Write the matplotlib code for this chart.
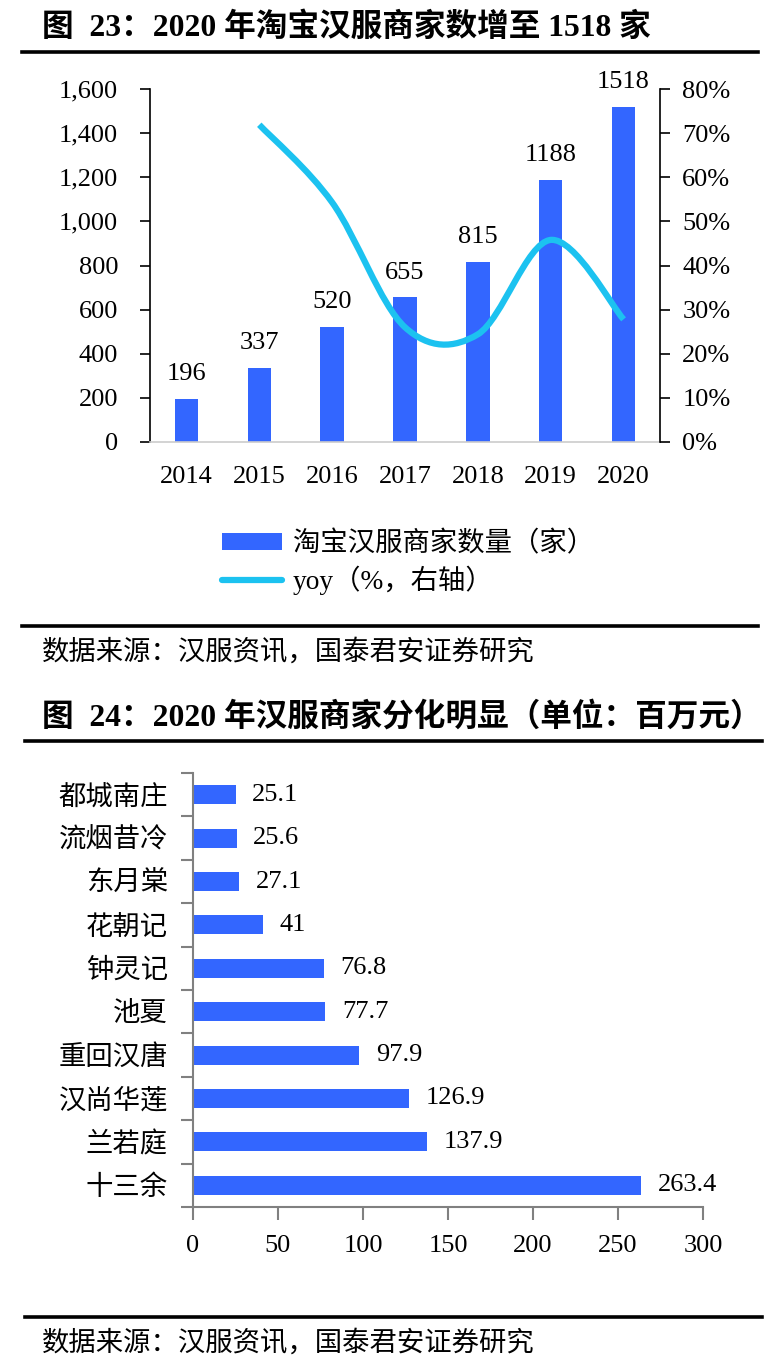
import matplotlib
matplotlib.use("Agg")
import matplotlib.pyplot as plt
from matplotlib.path import Path
from matplotlib.patches import PathPatch
from matplotlib.lines import Line2D
from matplotlib.ticker import FuncFormatter, FixedLocator
import numpy as np

# ---------------- data ----------------
years = ["2014", "2015", "2016", "2017", "2018", "2019", "2020"]
merchants = [196, 337, 520, 655, 815, 1188, 1518]
yoy_years = ["2015", "2016", "2017", "2018", "2019", "2020"]
yoy = [71.9, 54.3, 26.0, 24.4, 45.8, 27.8]

shops = ["十三余", "兰若庭", "汉尚华莲", "重回汉唐", "池夏", "钟灵记", "花朝记", "东月棠", "流烟昔冷", "都城南庄"]
sales = [263.4, 137.9, 126.9, 97.9, 77.7, 76.8, 41, 27.1, 25.6, 25.1]
sales_labels = ["263.4", "137.9", "126.9", "97.9", "77.7", "76.8", "41", "27.1", "25.6", "25.1"]

title1 = "图  23：2020 年淘宝汉服商家数增至 1518 家"
title2 = "图  24：2020 年汉服商家分化明显（单位：百万元）"
source = "数据来源：汉服资讯，国泰君安证券研究"
legend_bar = "淘宝汉服商家数量（家）"
legend_line = "yoy（%，右轴）"

# ---------------- style ----------------
FAM = ["Liberation Serif", "Noto Sans CJK SC", "DejaVu Sans"]
plt.rcParams["font.family"] = FAM
FS = 19
FS_CJK = 19.7
FS_TITLE = 22.8
BLUE = "#3366FF"
CYAN = "#1CC2F0"

W, H = 783, 1371
fig = plt.figure(figsize=(W / 100, H / 100), dpi=100)

def fx(px):
    return px / W

def fy(py):
    return 1 - py / H

def hrule(y, x0, x1, lw=2.6):
    fig.add_artist(Line2D([fx(x0), fx(x1)], [fy(y), fy(y)], color="black", lw=lw,
                          transform=fig.transFigure))

# ---------------- chart 1 ----------------
fig.text(fx(42), fy(28), title1, fontsize=FS_TITLE, fontweight="bold", va="center", ha="left")
hrule(52, 22, 758)

ax1 = fig.add_axes([fx(150), fy(442), fx(660) - fx(150), (442 - 89) / H])
x = np.arange(len(years))
bars = ax1.bar(x, merchants, width=0.32, color=BLUE, zorder=2, label=legend_bar)
ax1.set_xlim(-0.5, len(years) - 0.5)
ax1.set_ylim(0, 1600)
ax1.set_yticks(np.arange(0, 1601, 200))
ax1.yaxis.set_major_formatter(FuncFormatter(lambda v, p: f"{int(v):,}"))
ax1.set_xticks(x)
ax1.set_xticklabels(years)
ax1.tick_params(axis="y", direction="out", length=7, width=1.2, pad=16, labelsize=FS, colors="black")
ax1.tick_params(axis="x", length=0, pad=17, labelsize=FS)
ax1.spines["top"].set_visible(False)
ax1.spines["left"].set_linewidth(1.2)
ax1.spines["right"].set_visible(False)
ax1.spines["bottom"].set_color("#CCCCCC")
ax1.spines["bottom"].set_linewidth(1.2)
for xi, v in zip(x, merchants):
    ax1.annotate(str(v), (xi, v), xytext=(0, 10), textcoords="offset points",
                 ha="center", va="bottom", fontsize=FS)

ax2 = ax1.twinx()
ax2.set_ylim(0, 80)
ax2.set_yticks(np.arange(0, 81, 10))
ax2.yaxis.set_major_formatter(FuncFormatter(lambda v, p: f"{int(v)}%"))
ax2.tick_params(axis="y", direction="out", length=7, width=1.2, pad=9, labelsize=FS)
for s in ["top", "left", "bottom"]:
    ax2.spines[s].set_visible(False)
ax2.spines["right"].set_linewidth(1.2)

# smoothed (Excel-like) curve through the yoy points
px = np.array([years.index(y) for y in yoy_years], dtype=float)
py = np.array(yoy, dtype=float)
verts = [(px[0], py[0])]
codes = [Path.MOVETO]
n = len(px)
for i in range(n - 1):
    p0 = np.array([px[max(i - 1, 0)], py[max(i - 1, 0)]])
    p1 = np.array([px[i], py[i]])
    p2 = np.array([px[i + 1], py[i + 1]])
    p3 = np.array([px[min(i + 2, n - 1)], py[min(i + 2, n - 1)]])
    c1 = p1 + (p2 - p0) / 6
    c2 = p2 - (p3 - p1) / 6
    verts += [tuple(c1), tuple(c2), tuple(p2)]
    codes += [Path.CURVE4] * 3
curve = PathPatch(Path(verts, codes), facecolor="none", edgecolor=CYAN, lw=4.5,
                  capstyle="butt", joinstyle="round", zorder=3)
ax2.add_patch(curve)

h_line = Line2D([], [], color=CYAN, lw=4.5, solid_capstyle="round")
fig.legend([bars, h_line], [legend_bar, legend_line], loc="center left",
           bbox_to_anchor=(fx(222), fy(563)), frameon=False, fontsize=FS_CJK,
           handlelength=2.2, handleheight=0.6, handletextpad=0.4, labelspacing=0.33,
           borderpad=0, borderaxespad=0)

hrule(626, 22, 758)
fig.text(fx(42), fy(652), source, fontsize=FS_CJK, va="center", ha="left")

# ---------------- chart 2 ----------------
fig.text(fx(42), fy(717), title2, fontsize=FS_TITLE, fontweight="bold", va="center", ha="left")
hrule(741, 25, 762)

ax3 = fig.add_axes([fx(193), fy(1207), fx(703) - fx(193), (1207 - 773) / H])
y = np.arange(len(shops))
ax3.barh(y, sales, height=0.44, color=BLUE, zorder=2)
ax3.set_xlim(0, 300)
ax3.set_ylim(-0.5, len(shops) - 0.5)
ax3.set_xticks(np.arange(0, 301, 50))
ax3.set_yticks(y)
ax3.set_yticklabels(shops)
ax3.yaxis.set_minor_locator(FixedLocator(np.arange(-0.5, len(shops), 1.0)))
ax3.tick_params(axis="y", which="major", length=0, pad=18, labelsize=FS_CJK)
ax3.tick_params(axis="y", which="minor", length=9, width=1.5, color="#808080", direction="out")
ax3.tick_params(axis="x", length=9, width=1.5, color="#808080", direction="out", pad=11, labelsize=FS)
for s in ["top", "right"]:
    ax3.spines[s].set_visible(False)
for s in ["left", "bottom"]:
    ax3.spines[s].set_color("#808080")
    ax3.spines[s].set_linewidth(1.5)
for yi, v, lab in zip(y, sales, sales_labels):
    ax3.annotate(lab, (v, yi), xytext=(12, 0), textcoords="offset points",
                 ha="left", va="center", fontsize=FS)

hrule(1317, 25, 762)
fig.text(fx(42), fy(1343), source, fontsize=FS_CJK, va="center", ha="left")

fig.savefig("out.png", dpi=100)
